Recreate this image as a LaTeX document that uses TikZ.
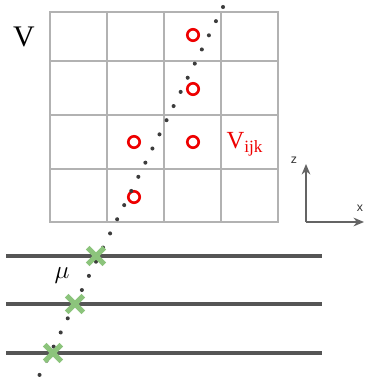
\documentclass[tikz,border=0pt]{standalone}
\usepackage{fontspec}
\setmainfont{Liberation Serif}
\setsansfont{Liberation Sans}
\usepackage{tikz}
\usetikzlibrary{shapes.misc,arrows.meta,positioning}
\usepackage{xcolor}
\definecolor{gridgray}{RGB}{178,178,178}
\definecolor{planegray}{RGB}{85,85,85}
\definecolor{trackgray}{RGB}{60,60,60}
\definecolor{axisgray}{RGB}{100,100,100}
\definecolor{hitgreen}{RGB}{140,196,124}
\definecolor{voxred}{RGB}{238,0,0}

\begin{document}
\begin{tikzpicture}[
    x=0.02cm, y=-0.02cm,
    gridline/.style={draw=gridgray, line width=0.7pt},
    vox/.style={circle, draw=voxred, line width=1.5pt, minimum size=6.5pt, inner sep=0pt},
    plane/.style={draw=planegray, line width=2.4pt},
    track/.style={draw=trackgray, line width=2.3pt, line cap=round, dash pattern=on 0pt off 9pt},
    hit/.style={cross out, draw=hitgreen, line width=3pt, minimum size=6.5pt, inner sep=0pt},
    axis/.style={-{Stealth[length=6pt,width=5pt]}, draw=axisgray, line width=0.8pt}
]
\useasboundingbox (0,0) rectangle (365,392);

% voxel grid
\draw[gridline] (50,12) rectangle (278,222);
\foreach \gx in {107,164,221}
    \draw[gridline] (\gx,12) -- (\gx,222);
\foreach \gy in {61,115,169}
    \draw[gridline] (50,\gy) -- (278,\gy);

\node[font=\fontsize{17}{17}\selectfont] (vlab) at (24,37) {V};

\node[vox] (v1) at (193,35) {};
\node[vox] (v2) at (193,89) {};
\node[vox] (v3) at (134,142) {};
\node[vox] (v4) at (193,142) {};
\node[vox] (v5) at (134,197) {};
\node[text=voxred, font=\fontsize{14}{14}\selectfont, inner sep=0pt] (vijk) at (245,144) {V$_{\mathrm{ijk}}$};

% detector planes
\coordinate (p1l) at (6,256);  \coordinate (p1r) at (322,256);
\coordinate (p2l) at (6,304);  \coordinate (p2r) at (322,304);
\coordinate (p3l) at (6,353);  \coordinate (p3r) at (322,353);
\draw[plane] (p1l) -- (p1r);
\draw[plane] (p2l) -- (p2r);
\draw[plane] (p3l) -- (p3r);

% muon track
\coordinate (ttop) at (223,7);
\coordinate (tbot) at (35,384);
\draw[track] (ttop) -- (tbot);
\node[font=\fontsize{15}{15}\selectfont] (mu) at (62,276) {$\mu$};

\node[hit] (h1) at (96,256) {};
\node[hit] (h2) at (75,304) {};
\node[hit] (h3) at (53,353) {};

% axes
\coordinate (o) at (306,222);
\coordinate (zend) at (306,164);
\coordinate (xend) at (364,222);
\draw[axis] (o) -- (zend);
\draw[axis] (o) -- (xend);
\node[font=\sffamily\fontsize{7}{7}\selectfont, text=black!80, inner sep=0pt] (zlab) at (294,160) {z};
\node[font=\sffamily\fontsize{7}{7}\selectfont, text=black!80, inner sep=0pt] (xlab) at (360,208) {x};

\end{tikzpicture}
\end{document}
